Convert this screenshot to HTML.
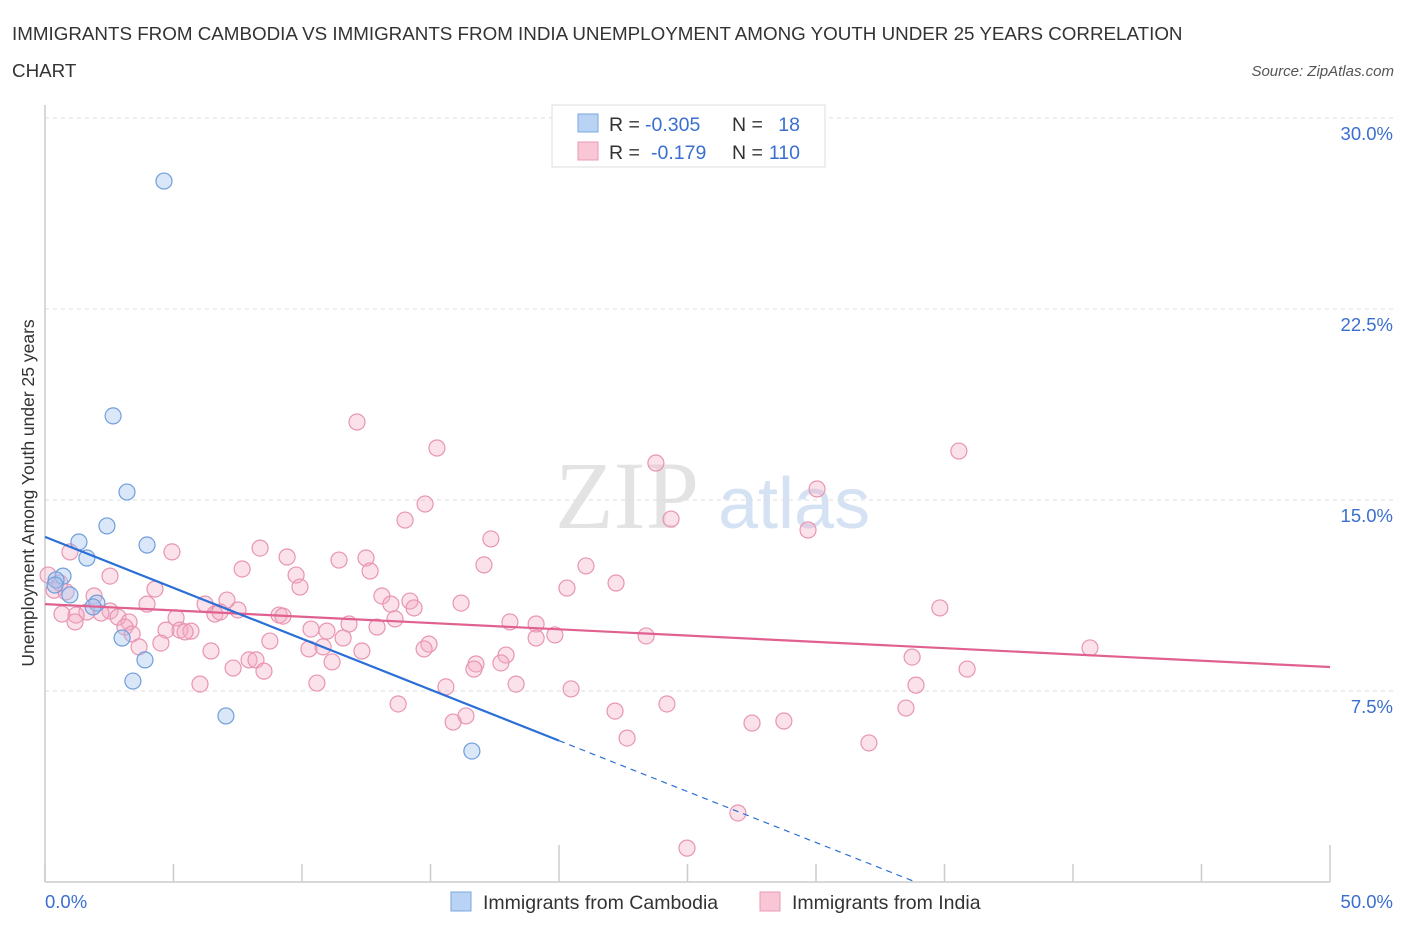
<!DOCTYPE html>
<html><head><meta charset="utf-8"><style>
body{margin:0;background:#fff;font-family:"Liberation Sans",sans-serif;}
svg{display:block}
</style></head><body>
<svg id="chart" width="1406" height="930" xmlns="http://www.w3.org/2000/svg">
<text x="12" y="40" font-size="18.8" fill="#333">IMMIGRANTS FROM CAMBODIA VS IMMIGRANTS FROM INDIA UNEMPLOYMENT AMONG YOUTH UNDER 25 YEARS CORRELATION</text>
<text x="12" y="77" font-size="18.8" fill="#333">CHART</text>
<text x="1394" y="76" font-size="15" fill="#555" text-anchor="end" font-style="italic">Source: ZipAtlas.com</text>
<text x="555" y="528" font-size="96" fill="#d8d8d8" font-family="Liberation Serif" opacity="0.7">ZIP</text>
<text x="718" y="528" font-size="72" fill="#c4d6ee" opacity="0.7">atlas</text>
<g id="grid"></g>
<g id="axes"></g>
<g id="marks"></g>
<text transform="translate(34,493) rotate(-90)" font-size="17.5" fill="#333" text-anchor="middle">Unemployment Among Youth under 25 years</text>
<g>
<rect x="552" y="105" width="273" height="62" fill="#fff" stroke="#ddd"/>
<rect x="578" y="114" width="20" height="18" fill="#b9d3f5" stroke="#7aa7e0"/>
<rect x="578" y="142" width="20" height="18" fill="#f9c6d6" stroke="#e89ab4"/>
<text x="609" y="131" font-size="19.5" fill="#333">R =</text>
<text x="645" y="131" font-size="19.5" fill="#3a6fd0">-0.305</text>
<text x="732" y="131" font-size="19.5" fill="#333">N =</text>
<text x="800" y="131" font-size="19.5" fill="#3a6fd0" text-anchor="end">18</text>
<text x="609" y="159" font-size="19.5" fill="#333">R =</text>
<text x="651" y="159" font-size="19.5" fill="#3a6fd0">-0.179</text>
<text x="732" y="159" font-size="19.5" fill="#333">N =</text>
<text x="800" y="159" font-size="19.5" fill="#3a6fd0" text-anchor="end">110</text>
</g>
<g>
<rect x="451" y="892" width="20" height="19" fill="#b9d3f5" stroke="#7aa7e0"/>
<text x="483" y="909" font-size="19.5" fill="#333">Immigrants from Cambodia</text>
<rect x="760" y="892" width="20" height="19" fill="#f9c6d6" stroke="#e89ab4"/>
<text x="792" y="909" font-size="19.5" fill="#333">Immigrants from India</text>
</g>
</svg>
<script>
const cambX=[4.63,2.65,3.19,2.41,1.32,3.97,1.63,0.70,0.43,0.39,0.97,2.02,1.87,3.00,3.89,3.42,7.04,16.61];
const cambY=[27.52,18.30,15.31,13.98,13.35,13.23,12.72,12.01,11.86,11.66,11.27,10.95,10.80,9.58,8.72,7.89,6.52,5.14];
const indX=[12.14,15.25,35.56,23.77,14.79,24.36,14.01,30.04,29.69,17.35,8.37,0.97,4.94,9.42,11.44,12.49,17.08,21.05,7.67,12.65,2.53,9.77,22.22,20.31,4.28,9.92,0.35,0.82,13.11,16.19,14.20,13.46,7.08,3.97,6.23,14.36,34.82,7.51,2.53,1.63,2.18,6.61,9.11,9.26,6.81,0.66,1.21,2.84,5.10,13.62,18.09,1.17,3.27,11.83,19.11,5.25,5.68,4.71,10.35,5.45,10.97,12.92,3.11,3.39,19.84,23.39,11.60,8.75,19.11,4.51,14.94,10.27,14.75,10.82,3.66,12.33,6.46,40.66,17.94,33.74,16.77,11.17,17.74,16.69,7.32,7.94,8.21,8.52,6.03,10.58,15.60,18.33,33.89,20.47,35.88,13.74,24.20,22.18,33.50,16.38,15.88,27.51,28.75,22.65,32.06,26.96,24.98,1.91,0.58,0.12];
const indY=[18.06,17.04,16.92,16.45,14.84,14.25,14.21,15.43,13.82,13.47,13.11,12.96,12.96,12.76,12.64,12.72,12.45,12.41,12.29,12.21,12.01,12.05,11.74,11.54,11.50,11.58,11.46,11.39,11.23,10.95,11.03,10.91,11.07,10.91,10.91,10.76,10.76,10.68,10.64,10.60,10.56,10.52,10.48,10.44,10.60,10.52,10.48,10.40,10.37,10.33,10.21,10.21,10.21,10.13,10.13,9.89,9.85,9.89,9.93,9.82,9.85,10.01,10.01,9.74,9.70,9.66,9.58,9.46,9.58,9.38,9.34,9.15,9.15,9.23,9.23,9.07,9.07,9.19,8.91,8.83,8.56,8.64,8.60,8.36,8.40,8.72,8.72,8.28,7.77,7.81,7.66,7.77,7.73,7.58,8.36,6.99,6.99,6.71,6.83,6.52,6.28,6.24,6.32,5.65,5.46,2.71,1.33,11.23,11.74,12.05];
const cambTrend=[13.55,-0.40];
const indTrend=[10.91,-0.0494];
const yTicks=[7.5,15,22.5,30];
const yTickLabels=["7.5%","15.0%","22.5%","30.0%"];
const xTicks=[0,5,10,15,20,25,30,35,40,45,50];
const NS="http://www.w3.org/2000/svg";
const X=v=>45+v*25.7, Y=v=>882-v*25.47;
function mk(t,a,p){const e=document.createElementNS(NS,t);for(const k in a)e.setAttribute(k,a[k]);p.appendChild(e);return e;}
const grid=document.getElementById('grid'),axes=document.getElementById('axes'),marks=document.getElementById('marks');
yTicks.forEach((v,i)=>{
 const l=mk('line',{x1:45,x2:1394,y1:Y(v),y2:Y(v),stroke:'#ddd','stroke-dasharray':'4,4'},grid);
 
 
 const t=mk('text',{x:1393,y:Y(v)+22,'font-size':18.5,fill:'#3a6fd0','text-anchor':'end'},axes);
 t.textContent=yTickLabels[i];
 
 
});
const ax=mk('line',{x1:45,x2:1330,y1:882,y2:882,stroke:'#ccc','stroke-width':1.5},axes);


const ay=mk('line',{x1:45,x2:45,y1:105,y2:882,stroke:'#ccc','stroke-width':1.5},axes);


xTicks.forEach(v=>{
 const t=mk('line',{x1:X(v),x2:X(v),y1:(v==20||v==50)?845:864,y2:882,stroke:'#ccc','stroke-width':1.5},axes);
 
 
});
const x0=mk('text',{x:45,y:908,'font-size':18.5,fill:'#3a6fd0'},axes);x0.textContent='0.0%';


const x1=mk('text',{x:1393,y:908,'font-size':18.5,fill:'#3a6fd0','text-anchor':'end'},axes);x1.textContent='50.0%';


indX.forEach((v,i)=>{
 const c=mk('circle',{cx:X(v),cy:Y(indY[i]),r:8,fill:'rgba(244,170,195,0.35)',stroke:'#e895b2','stroke-width':1.2},marks);
 
 
});
cambX.forEach((v,i)=>{
 const c=mk('circle',{cx:X(v),cy:Y(cambY[i]),r:8,fill:'rgba(160,196,240,0.4)',stroke:'#6f9edb','stroke-width':1.2},marks);
 
 
});
const li=mk('line',{x1:X(0),y1:Y(indTrend[0]),x2:X(50),y2:Y(indTrend[0]+indTrend[1]*50),stroke:'#e0608f','stroke-width':2.2},marks);


const xs=20, xz=-cambTrend[0]/cambTrend[1];
const lc=mk('line',{x1:X(0),y1:Y(cambTrend[0]),x2:X(xs),y2:Y(cambTrend[0]+cambTrend[1]*xs),stroke:'#2a6fd6','stroke-width':2.2},marks);


const ld=mk('line',{x1:X(xs),y1:Y(cambTrend[0]+cambTrend[1]*xs),x2:X(xz),y2:Y(0),stroke:'#2a6fd6','stroke-width':1.2,'stroke-dasharray':'6,5'},marks);


</script>
</body></html>
